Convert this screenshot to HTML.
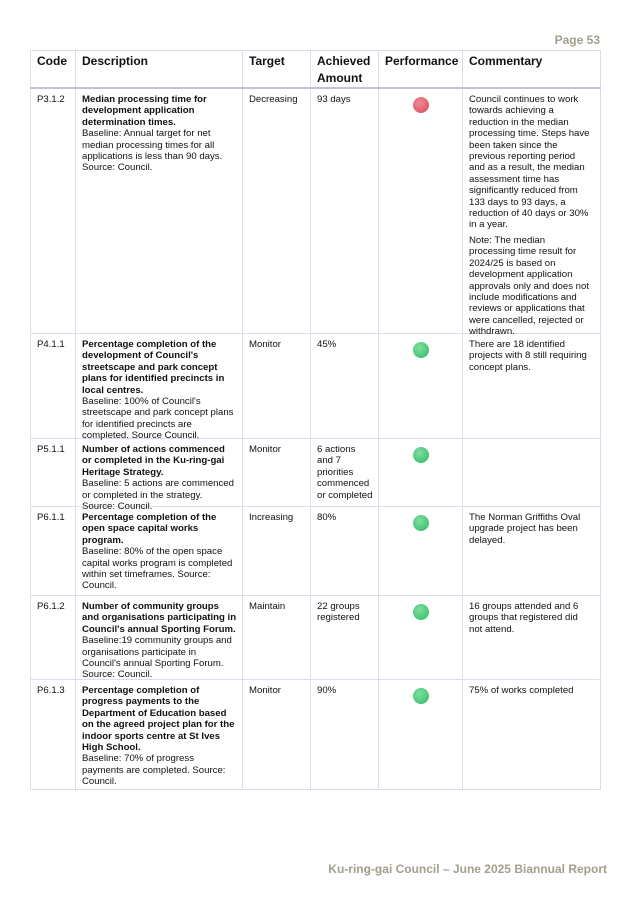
<!DOCTYPE html>
<html><head><meta charset="utf-8"><style>
body{margin:0;width:637px;height:901px;background:#fff;position:relative;font-family:"Liberation Sans",Arial,sans-serif;color:#111;}
.pg{position:absolute;right:37px;top:33px;font-size:12px;font-weight:bold;color:#a39e8c;}
.ft{position:absolute;right:30px;top:862px;font-size:12px;font-weight:bold;color:#a39e8c;white-space:nowrap;}
table{position:absolute;left:30px;top:50px;border-collapse:collapse;table-layout:fixed;width:570px;}
td,th{border:1px solid #e0daec;vertical-align:top;font-size:9.6px;line-height:11.4px;padding:5px 5px 0 6px;text-align:left;}
td>div{overflow:visible;}
th{font-size:12px;line-height:17px;font-weight:bold;padding:2px 3px 0 6px;border-bottom:2px solid #c8bde0;height:34px;}
b{font-weight:bold;}
.dot{width:16px;height:16px;border-radius:50%;margin:3px auto 0;}
.r{background:radial-gradient(circle at 40% 35%,#f08a96,#d94a5c);}
.g{background:radial-gradient(circle at 40% 35%,#7ee0a0,#2cb860);}
p{margin:0 0 4px;}
.cm{padding-right:10px;}
.r1 td>div{height:236px}.r2 td>div{height:96px}.r3 td>div{height:59px}.r4 td>div{height:80px}.r5 td>div{height:75px}.r6 td>div{height:101px}
</style></head><body>
<div class="pg">Page 53</div>
<table>
<colgroup><col style="width:45px"><col style="width:167px"><col style="width:68px"><col style="width:68px"><col style="width:84px"><col style="width:138px"></colgroup>
<tr><th>Code</th><th>Description</th><th>Target</th><th>Achieved Amount</th><th>Performance</th><th>Commentary</th></tr>
<tr class="r1"><td><div>P3.1.2</div></td><td><div><b>Median processing time for development application determination times.</b><br>Baseline: Annual target for net median processing times for all applications is less than 90 days. Source: Council.</div></td><td><div>Decreasing</div></td><td><div>93 days</div></td><td><div><div class="dot r"></div></div></td><td class="cm"><div><p>Council continues to work towards achieving a reduction in the median processing time. Steps have been taken since the previous reporting period and as a result, the median assessment time has significantly reduced from 133 days to 93 days, a reduction of 40 days or 30% in a year.</p>Note: The median processing time result for 2024/25 is based on development application approvals only and does not include modifications and reviews or applications that were cancelled, rejected or withdrawn.</div></td></tr>
<tr class="r2"><td><div>P4.1.1</div></td><td><div><b>Percentage completion of the development of Council's streetscape and park concept plans for identified precincts in local centres.</b><br>Baseline: 100% of Council's streetscape and park concept plans for identified precincts are completed. Source Council.</div></td><td><div>Monitor</div></td><td><div>45%</div></td><td><div><div class="dot g"></div></div></td><td class="cm"><div>There are 18 identified projects with 8 still requiring concept plans.</div></td></tr>
<tr class="r3"><td><div>P5.1.1</div></td><td><div><b>Number of actions commenced or completed in the Ku-ring-gai Heritage Strategy.</b><br>Baseline: 5 actions are commenced or completed in the strategy. Source: Council.</div></td><td><div>Monitor</div></td><td><div>6 actions and 7 priorities commenced or completed</div></td><td><div><div class="dot g"></div></div></td><td><div></div></td></tr>
<tr class="r4"><td><div>P6.1.1</div></td><td><div><b>Percentage completion of the open space capital works program.</b><br>Baseline: 80% of the open space capital works program is completed within set timeframes. Source: Council.</div></td><td><div>Increasing</div></td><td><div>80%</div></td><td><div><div class="dot g"></div></div></td><td class="cm"><div>The Norman Griffiths Oval upgrade project has been delayed.</div></td></tr>
<tr class="r5"><td><div>P6.1.2</div></td><td><div><b>Number of community groups and organisations participating in Council's annual Sporting Forum.</b><br>Baseline:19 community groups and organisations participate in Council's annual Sporting Forum. Source: Council.</div></td><td><div>Maintain</div></td><td><div>22 groups registered</div></td><td><div><div class="dot g"></div></div></td><td class="cm"><div>16 groups attended and 6 groups that registered did not attend.</div></td></tr>
<tr class="r6"><td><div>P6.1.3</div></td><td><div><b>Percentage completion of progress payments to the Department of Education based on the agreed project plan for the indoor sports centre at St Ives High School.</b><br>Baseline: 70% of progress payments are completed. Source: Council.</div></td><td><div>Monitor</div></td><td><div>90%</div></td><td><div><div class="dot g"></div></div></td><td class="cm"><div>75% of works completed</div></td></tr>
</table>
<div class="ft">Ku-ring-gai Council – June 2025 Biannual Report</div>
</body></html>
